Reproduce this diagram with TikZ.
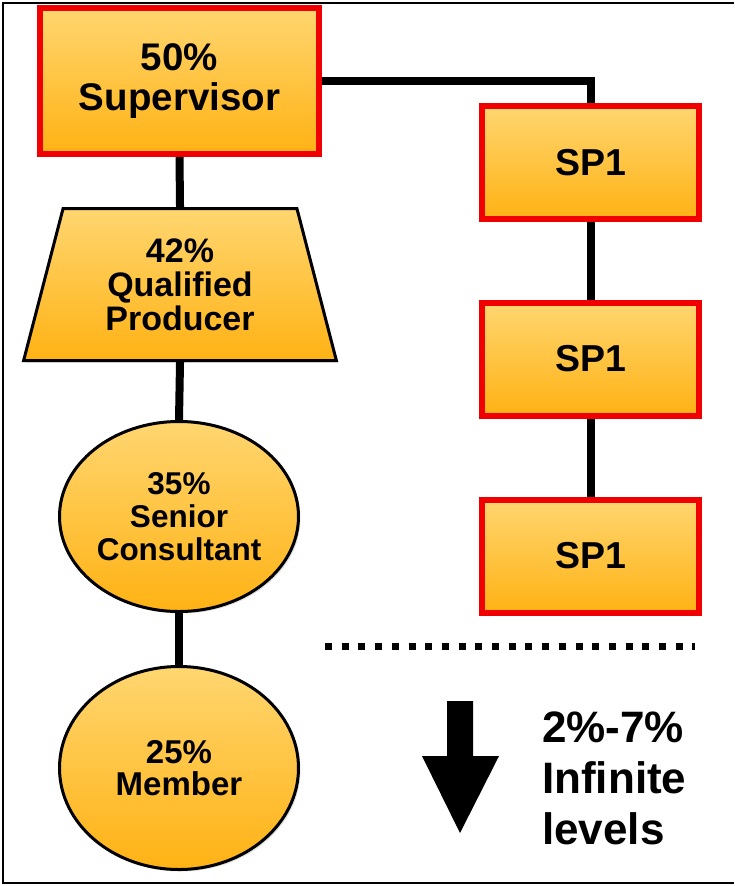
\documentclass[tikz,border=0pt]{standalone}
\usepackage{fontspec}
\setmainfont{Liberation Sans}
\usepackage{xcolor}
\definecolor{plantop}{RGB}{255,214,112}
\definecolor{planbot}{RGB}{255,178,20}
\definecolor{planred}{RGB}{240,0,0}
\usetikzlibrary{shapes.geometric,shadows,positioning}

\begin{document}
\begin{tikzpicture}[
  x=1pt, y=-1pt,
  every node/.style={font=\bfseries, align=center},
  rankbox/.style={draw=planred, line width=6pt, top color=plantop, bottom color=planbot,
                  drop shadow={opacity=0.25, shadow xshift=2pt, shadow yshift=-2pt},
                  inner sep=0pt},
  rankround/.style={draw=black, line width=3pt, top color=plantop, bottom color=planbot,
                  drop shadow={opacity=0.25, shadow xshift=2pt, shadow yshift=-2pt},
                  inner sep=0pt},
  link/.style={line width=8pt},
]
  \useasboundingbox (0,0) rectangle (734,886);
  % frame
  \draw[line width=2pt] (734,3) -- (3,3) -- (3,883) -- (734,883);

  % Left column
  \node[rankbox, minimum width=279pt, minimum height=146pt,
        font=\bfseries\fontsize{38.5}{40}\selectfont] (sup) at (179.5,81) {50\%\\Supervisor};
  \node[rankround, trapezium, trapezium stretches=true, trapezium left angle=74.7,
        trapezium right angle=74.7, minimum width=313pt, minimum height=152pt,
        font=\bfseries\fontsize{34}{34}\selectfont] (qp) at (180,284.5) {42\%\\Qualified\\Producer};
  \node[rankround, ellipse, minimum width=239pt, minimum height=190pt,
        font=\bfseries\fontsize{31.5}{33}\selectfont] (sc) at (179,516.5) {35\%\\Senior\\Consultant};
  \node[rankround, ellipse, minimum width=239pt, minimum height=203pt,
        font=\bfseries\fontsize{33}{32}\selectfont] (mem) at (179,768) {25\%\\Member};

  % Right column
  \node[rankbox, minimum width=217pt, minimum height=113pt,
        font=\bfseries\fontsize{37.5}{40}\selectfont] (spa) at (590.5,162.5) {SP1};
  \node[rankbox, minimum width=217pt, minimum height=113pt,
        font=\bfseries\fontsize{37.5}{40}\selectfont] (spb) at (590.5,359) {SP1};
  \node[rankbox, minimum width=217pt, minimum height=113pt,
        font=\bfseries\fontsize{37.5}{40}\selectfont] (spc) at (590.5,556) {SP1};

  % connectors
  \draw[link] (sup.south) -- (qp.north);
  \draw[link] (qp.south) -- (sc.north);
  \draw[link] (sc.south) -- (mem.north);
  \draw[link] (sup.east) -| (spa.north);
  \draw[link] (spa.south) -- (spb.north);
  \draw[link] (spb.south) -- (spc.north);

  % level cut
  \coordinate (cutl) at (325,646);
  \coordinate (cutr) at (695,646);
  \draw[line width=7pt, dash pattern=on 7pt off 9.7pt] (cutl) -- (cutr);

  % down arrow
  \fill (447,701) -- (473,701) -- (473,756) -- (499,756) -- (460,833)
        -- (422,756) -- (447,756) -- cycle;
  \node[anchor=west, inner sep=0pt, align=left,
        font=\bfseries\fontsize{44}{51}\selectfont] (lvl) at (542,778) {2\%-7\%\\Infinite\\levels};
\end{tikzpicture}
\end{document}
